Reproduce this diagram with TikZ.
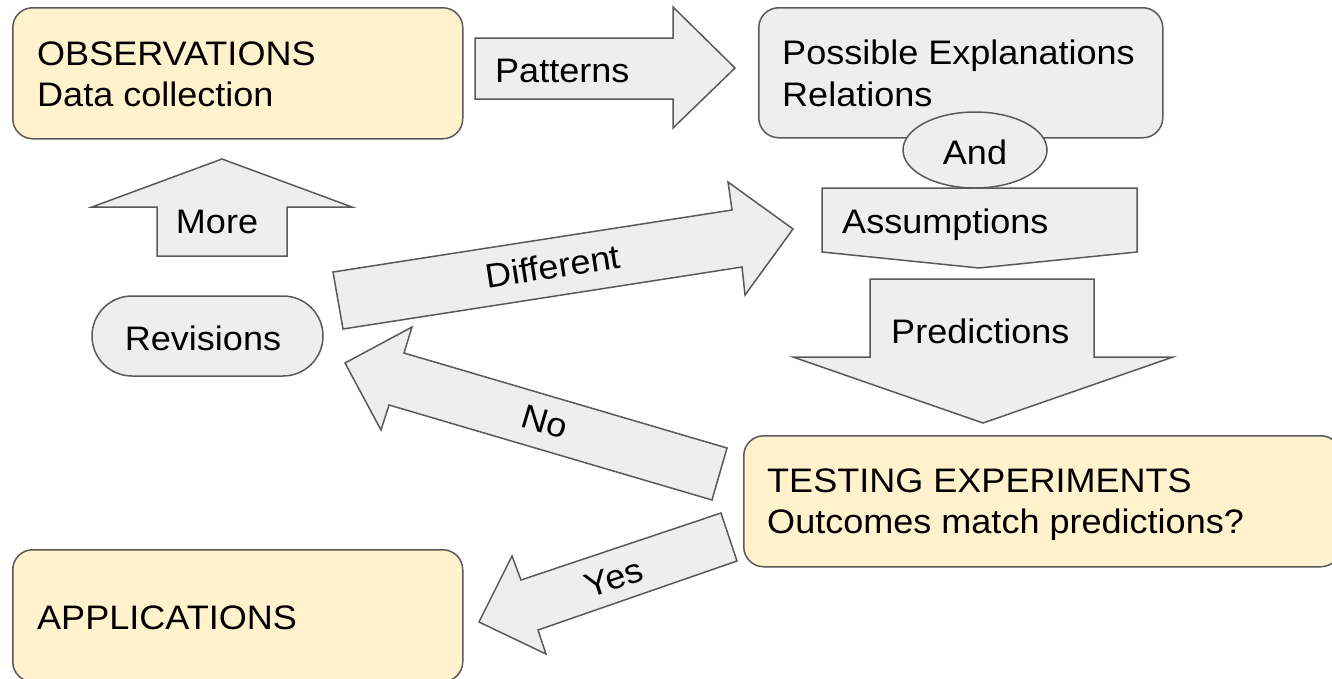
\documentclass[tikz,border=0pt]{standalone}
\usepackage{fontspec}
\setmainfont[FakeStretch=1.06]{Liberation Sans}
\usetikzlibrary{shapes.geometric}
\definecolor{cream}{HTML}{FFF2CC}
\definecolor{lgrey}{HTML}{EEEEEE}
\definecolor{edgegrey}{HTML}{595959}
\begin{document}
\begin{tikzpicture}[x=1pt,y=-1pt,
  outline/.style={draw=edgegrey, line width=1.5pt, line join=miter},
  blockarrow/.style={outline, fill=lgrey},
  roundbox/.style={outline, rounded corners=20pt, inner sep=0pt, anchor=north west},
  txt/.style={font=\fontsize{34}{40}\selectfont, inner sep=0pt, text=black},
  ltxt/.style={txt, anchor=base west}]
\useasboundingbox (0,0) rectangle (1332,678);

% boxes
\node[roundbox, fill=cream, minimum width=450pt, minimum height=131pt] (obs) at (12,7) {};
\node[ltxt] (obs1) at (37,65) {OBSERVATIONS};
\node[ltxt] (obs2) at (37,106) {Data collection};

\node[roundbox, fill=lgrey, minimum width=404pt, minimum height=130pt] (pe) at (758,7) {};
\node[ltxt] (pe1) at (782,64) {Possible Explanations};
\node[ltxt] (pe2) at (782,106) {Relations};

\node[roundbox, fill=cream, minimum width=597pt, minimum height=131pt] (test) at (743,435) {};
\node[ltxt] (test1) at (767,492) {TESTING EXPERIMENTS};
\node[ltxt] (test2) at (767,533) {Outcomes match predictions?};

\node[roundbox, fill=cream, minimum width=450pt, minimum height=132pt] (app) at (12,549) {};
\node[ltxt] (app1) at (37,629) {APPLICATIONS};

% Patterns arrow
\draw[blockarrow] (475,38) -- (673,38) -- (673,7) -- (735,68) -- (673,128) -- (673,99) -- (475,99) -- cycle;
\node[ltxt] (patt) at (495,82) {Patterns};

% Assumptions
\draw[blockarrow] (822,188) -- (1137,188) -- (1137,252) -- (979,268) -- (822,252) -- cycle;
\node[ltxt] (assum) at (842,233) {Assumptions};

% And ellipse
\node[outline, fill=lgrey, ellipse, minimum width=144pt, minimum height=76pt, inner sep=0pt] (and) at (975,150) {};
\node[txt] (andT) at (975,152) {And};

% Predictions arrow
\draw[blockarrow] (870,279) -- (1094,279) -- (1094,357) -- (1173,357) -- (983,423) -- (793,357) -- (870,357) -- cycle;
\node[ltxt] (pred) at (891,343) {Predictions};

% More arrow
\draw[blockarrow] (222,159) -- (352,207) -- (287,207) -- (287,256) -- (157,256) -- (157,207) -- (92,207) -- cycle;
\node[txt, anchor=base] (more) at (217,233) {More};

% Revisions
\node[outline, fill=lgrey, rounded corners=40pt, minimum width=231pt, minimum height=80pt, inner sep=0pt] (rev) at (207.5,336) {};
\node[txt] (revT) at (203,338) {Revisions};

% Different arrow
\draw[blockarrow] (333,272) -- (732,210) -- (728,182) -- (793,229) -- (745,295) -- (742,267) -- (343,329) -- cycle;
\node[txt, rotate=8.8] (diff) at (553,266) {Different};

% No arrow
\draw[blockarrow] (345,363) -- (412,327) -- (404,353) -- (727,448) -- (712,500) -- (389,405) -- (381,430) -- cycle;
\node[txt, rotate=-16.4] (no) at (545,422) {No};

% Yes arrow
\draw[blockarrow] (479,622) -- (512,556) -- (521,580) -- (721,513) -- (737,561) -- (538,630) -- (546,654) -- cycle;
\node[txt, rotate=18.5] (yes) at (614,578) {Yes};
\end{tikzpicture}
\end{document}
